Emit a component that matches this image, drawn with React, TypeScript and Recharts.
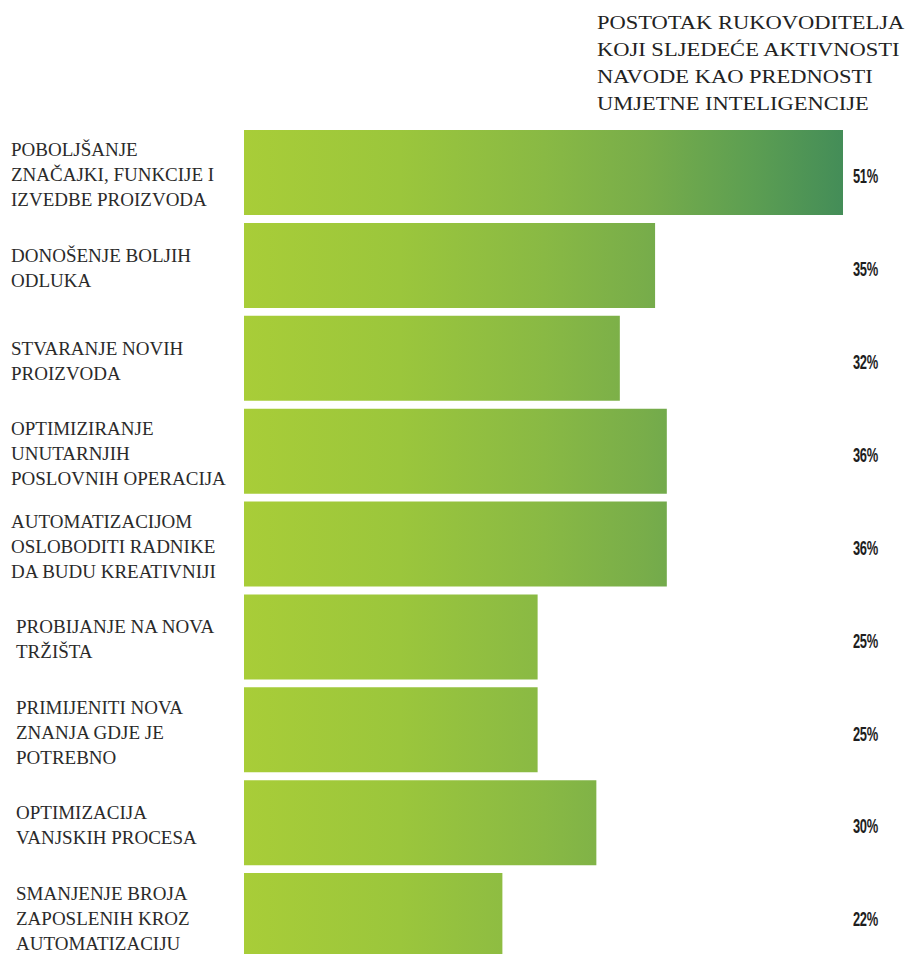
import React from "react";
import { BarChart, Bar, XAxis, YAxis, LabelList } from "recharts";

const categories: string[] = [
  "POBOLJŠANJE\nZNAČAJKI, FUNKCIJE I\nIZVEDBE PROIZVODA",
  "DONOŠENJE BOLJIH\nODLUKA",
  "STVARANJE NOVIH\nPROIZVODA",
  "OPTIMIZIRANJE\nUNUTARNJIH\nPOSLOVNIH OPERACIJA",
  "AUTOMATIZACIJOM\nOSLOBODITI RADNIKE\nDA BUDU KREATIVNIJI",
  "PROBIJANJE NA NOVA\nTRŽIŠTA",
  "PRIMIJENITI NOVA\nZNANJA GDJE JE\nPOTREBNO",
  "OPTIMIZACIJA\nVANJSKIH PROCESA",
  "SMANJENJE BROJA\nZAPOSLENIH KROZ\nAUTOMATIZACIJU",
];
const values: number[] = [51, 35, 32, 36, 36, 25, 25, 30, 22];
const titleLines: string[] = [
  "POSTOTAK RUKOVODITELJA",
  "KOJI SLJEDEĆE AKTIVNOSTI",
  "NAVODE KAO PREDNOSTI",
  "UMJETNE INTELIGENCIJE",
];

const data = categories.map((c, i) => ({ name: c, value: values[i] }));

const serif = "'Liberation Serif', 'Times New Roman', serif";

const CategoryTick = (props: any) => {
  const { y, payload, index } = props;
  const lines = String(payload.value).split("\n");
  const lh = 25;
  const x = index < 5 ? 11 : 16;
  return (
    <g>
      {lines.map((l: string, i: number) => (
        <text
          key={i}
          x={x}
          y={y + 2.5 + (i - (lines.length - 1) / 2) * lh}
          dominantBaseline="central"
          textAnchor="start"
          fontFamily={serif}
          fontSize={19}
          fill="#2a2a2a"
        >
          {l}
        </text>
      ))}
    </g>
  );
};

const PctLabel = (props: any) => {
  const { y, height, value } = props;
  const cy = y + height / 2 + 3.5;
  return (
    <text
      transform={`translate(853 ${cy}) scale(0.63 1)`}
      x={0}
      y={0}
      dominantBaseline="central"
      textAnchor="start"
      fontFamily="'Liberation Sans', Arial, sans-serif"
      fontWeight="bold"
      fontSize={20.5}
      letterSpacing={-0.5}
      fill="#1e1e1e"
    >
      {value}%
    </text>
  );
};

export default function App() {
  return (
    <div style={{ position: "absolute", left: 0, top: 0, width: 909, height: 954, overflow: "hidden", background: "#fff" }}>
      <div
        style={{
          position: "absolute",
          left: 597,
          top: 9.5,
          fontFamily: serif,
          fontSize: 18,
          lineHeight: "27px",
          color: "#222",
          whiteSpace: "nowrap",
          transform: "scaleX(1.25)",
          transformOrigin: "0 0",
        }}
      >
        {titleLines.map((t, i) => (
          <div key={i}>{t}</div>
        ))}
      </div>
      <div style={{ position: "absolute", left: 0, top: 0 }}>
        <BarChart
          width={909}
          height={962}
          data={data}
          layout="vertical"
          margin={{ top: 126, right: 66, bottom: 0, left: 0 }}
          barSize={85}
        >
          <defs>
            <linearGradient id="barGrad" gradientUnits="userSpaceOnUse" x1={244} y1={0} x2={843} y2={0}>
              <stop offset="0%" stopColor="#a8cd38" />
              <stop offset="26%" stopColor="#9bc63c" />
              <stop offset="50%" stopColor="#89b944" />
              <stop offset="67%" stopColor="#78ad4a" />
              <stop offset="85%" stopColor="#5c9e52" />
              <stop offset="100%" stopColor="#448d58" />
            </linearGradient>
          </defs>
          <XAxis type="number" domain={[0, 51]} hide />
          <YAxis
            type="category"
            dataKey="name"
            width={244}
            axisLine={false}
            tickLine={false}
            tick={<CategoryTick />}
            interval={0}
          />
          <Bar dataKey="value" fill="url(#barGrad)" isAnimationActive={false}>
            <LabelList dataKey="value" content={<PctLabel />} />
          </Bar>
        </BarChart>
      </div>
    </div>
  );
}
